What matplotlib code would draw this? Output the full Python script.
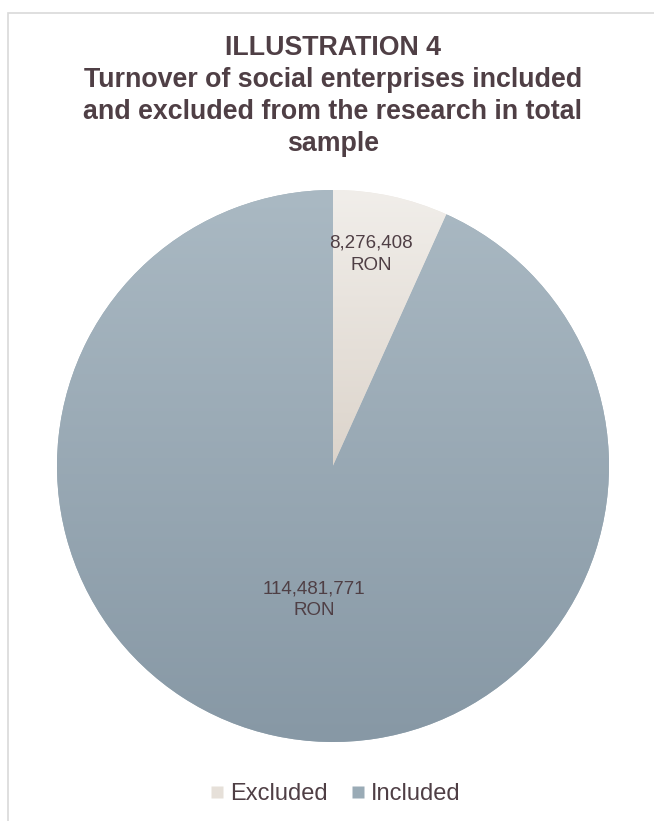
import numpy as np
import matplotlib
matplotlib.use("Agg")
import matplotlib.pyplot as plt
from matplotlib.patches import Rectangle
from matplotlib.lines import Line2D
from matplotlib.colors import LinearSegmentedColormap

categories = ["Excluded", "Included"]
values = [8276408, 114481771]
value_labels = ["8,276,408\nRON", "114,481,771\nRON"]
title = "ILLUSTRATION 4\nTurnover of social enterprises included\nand excluded from the research in total\nsample"

TEXT = "#4F3F45"
W, H = 654, 821
fig = plt.figure(figsize=(W / 100, H / 100), dpi=100)
fig.patch.set_facecolor("white")

# outer border (chart area)
fig.patches.append(Rectangle((7.5 / W, -0.05), 1.2, 1 - 13.5 / H + 0.05,
                             transform=fig.transFigure, fill=False,
                             edgecolor="#D9D9D9", linewidth=1.2))

R = 276
cx, cy = 333, 466
ax = fig.add_axes([(cx - R) / W, (H - cy - R) / H, 2 * R / W, 2 * R / H])
ax.axis("off")

wedges, _ = ax.pie(values, startangle=90, counterclock=False, radius=1,
                   colors=["#ECE7E1", "#9AABB6"],
                   wedgeprops=dict(linewidth=0))

# vertical gradients: (top colour, bottom colour, y-range of gradient)
grads = [("#F1EEEA", "#DCD4CB", (0.0, 1.0)),
         ("#AAB9C3", "#8798A5", (-1.0, 1.0))]
for w, (ctop, cbot, (y0, y1)) in zip(wedges, grads):
    cmap = LinearSegmentedColormap.from_list("g", [cbot, ctop])
    grad = np.linspace(0, 1, 256).reshape(-1, 1)
    im = ax.imshow(grad, cmap=cmap, extent=(-1, 1, y0, y1),
                   origin="lower", aspect="auto", zorder=2)
    im.set_clip_path(w)

ax.set_xlim(-1, 1)
ax.set_ylim(-1, 1)
ax.set_aspect("equal")

# data labels
label_r = [0.78, 0.49]
label_dang = [2.0, 4.0]
for w, lab, r, da in zip(wedges, value_labels, label_r, label_dang):
    ang = np.deg2rad((w.theta1 + w.theta2) / 2 + da)
    ax.text(r * np.cos(ang), r * np.sin(ang), lab, ha="center", va="center",
            fontsize=13.5, color=TEXT, family="Liberation Sans",
            linespacing=1.4, zorder=10)

fig.text(cx / W, 1 - 96 / H, title, ha="center", va="center",
         fontsize=19.3, fontweight="bold", color=TEXT,
         family="Liberation Sans", linespacing=1.3)

handles = [Line2D([], [], marker="s", linestyle="none", markersize=9,
                  markerfacecolor=c, markeredgecolor="none")
           for c in ["#E6E0D9", "#9AABB6"]]
fig.legend(handles, categories, loc="center", ncol=2,
           bbox_to_anchor=(cx / W, 1 - 794 / H), frameon=False,
           prop=dict(family="Liberation Sans", size=17),
           labelcolor=TEXT, handletextpad=0.05, columnspacing=0.8,
           handlelength=1.0)

fig.savefig("out.png", dpi=100)
